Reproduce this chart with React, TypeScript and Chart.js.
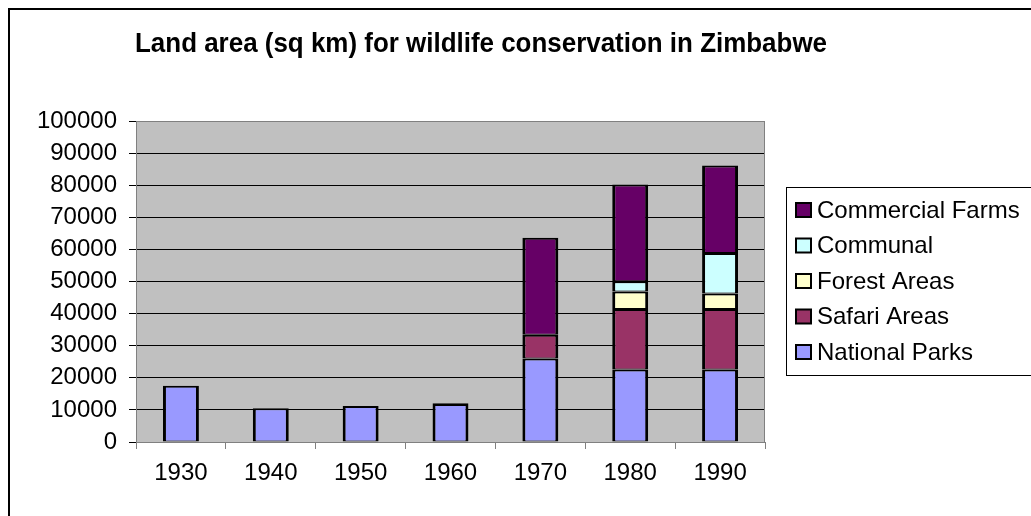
import React, { useEffect, useRef } from "react";
import { Chart, registerables } from "chart.js";

Chart.register(...registerables);

const titleText = "Land area (sq km) for wildlife conservation in Zimbabwe";
const years = ["1930", "1940", "1950", "1960", "1970", "1980", "1990"];
const nationalParks = [17500, 10500, 11200, 11800, 26000, 22600, 22600];
const safariAreas = [null, null, null, 300, 7400, 18800, 18800];
const forestAreas = [null, null, null, null, null, 5500, 4900];
const communal = [null, null, null, null, null, 3200, 12600];
const commercialFarms = [null, null, null, null, 30200, 30100, 27200];
const seriesNames = ["National Parks", "Safari Areas", "Forest Areas", "Communal", "Commercial Farms"];
const seriesColors = ["#9999FF", "#993366", "#FFFFCC", "#CCFFFF", "#660066"];
const yMin = 0;
const yMax = 100000;
const yStep = 10000;

const FONT = "'Liberation Sans', Arial, sans-serif";

const decorPlugin = {
  id: "decor",
  beforeDraw(chart: any) {
    const { ctx, chartArea: a } = chart;
    ctx.save();
    ctx.fillStyle = "#ffffff";
    ctx.fillRect(0, 0, chart.width, chart.height);
    ctx.strokeStyle = "#000000";
    ctx.lineWidth = 2;
    ctx.strokeRect(9, 9, chart.width + 40, chart.height + 40);
    ctx.fillStyle = "#C0C0C0";
    ctx.fillRect(a.left, a.top, a.right - a.left, a.bottom - a.top);
    ctx.restore();
  },
  beforeDatasetsDraw(chart: any) {
    const { ctx, chartArea: a } = chart;
    ctx.save();
    ctx.strokeStyle = "#808080";
    ctx.lineWidth = 1;
    ctx.beginPath();
    ctx.moveTo(Math.round(a.right) - 0.5, a.top);
    ctx.lineTo(Math.round(a.right) - 0.5, a.bottom);
    ctx.stroke();
    ctx.restore();
  },
  afterDraw(chart: any) {
    const { ctx } = chart;
    ctx.save();
    // title
    ctx.fillStyle = "#000";
    ctx.font = `bold 27px ${FONT}`;
    ctx.textAlign = "center";
    ctx.textBaseline = "alphabetic";
    const w = ctx.measureText(titleText).width;
    const sx = Math.min(1, 692 / w);
    ctx.save();
    ctx.translate(481, 52);
    ctx.scale(sx, 1);
    ctx.fillText(titleText, 0, 0);
    ctx.restore();
    // legend box
    ctx.strokeStyle = "#000";
    ctx.lineWidth = 1;
    ctx.strokeRect(786.5, 187.5, 400, 188);
    const ds = chart.data.datasets.slice().reverse();
    ctx.font = `24px ${FONT}`;
    ctx.textAlign = "left";
    ctx.textBaseline = "middle";
    ds.forEach((d: any, i: number) => {
      const cy = 210 + i * 35.5;
      ctx.fillStyle = d.backgroundColor;
      ctx.fillRect(796, cy - 7, 15, 14);
      ctx.lineWidth = 2;
      ctx.strokeStyle = "#000";
      ctx.strokeRect(796, cy - 7, 15, 14);
      ctx.fillStyle = "#000";
      ctx.fillText(d.label, 817, cy + 1);
    });
    ctx.restore();
  },
};

export default function App() {
  const ref = useRef<HTMLCanvasElement | null>(null);
  useEffect(() => {
    if (!ref.current) return;
    const seriesData = [nationalParks, safariAreas, forestAreas, communal, commercialFarms];
    const chart = new Chart(ref.current, {
      type: "bar",
      data: {
        labels: years,
        datasets: seriesNames.map((name, i) => ({
          label: name,
          data: seriesData[i] as any,
          backgroundColor: seriesColors[i],
          borderColor: "#000000",
          borderWidth: { top: 2, bottom: 1, left: 3, right: 3 },
          borderSkipped: false,
          barPercentage: 0.4,
          categoryPercentage: 1,
        })),
      },
      options: {
        animation: false,
        responsive: false,
        devicePixelRatio: 1,
        layout: { padding: { left: 0, right: 266, top: 121, bottom: 24 } },
        plugins: { legend: { display: false }, title: { display: false }, tooltip: { enabled: false } },
        font: { family: FONT },
        scales: {
          x: {
            stacked: true,
            ticks: { color: "#000", font: { size: 24, family: FONT }, padding: 10, maxRotation: 0 },
            grid: { drawOnChartArea: false, offset: true, tickLength: 7, color: "#808080" },
            border: { color: "#808080", width: 1 },
            afterFit: (s: any) => { s.height = 50; },
          },
          y: {
            stacked: true,
            min: yMin,
            max: yMax,
            ticks: {
              stepSize: yStep,
              color: "#000",
              font: { size: 24, family: FONT },
              padding: 12,
              callback: (v: any) => String(v),
            },
            grid: {
              color: (c: any) => (c.tick && (c.tick.value === yMax || c.tick.value === yMin) ? "#808080" : "#000000"),
              tickColor: "#000000",
              tickLength: 7,
              lineWidth: 1,
            },
            border: { color: "#808080", width: 1 },
            afterFit: (s: any) => { s.width = 136; },
          },
        },
      } as any,
      plugins: [decorPlugin],
    });
    return () => chart.destroy();
  }, []);
  return (
    <div style={{ position: "fixed", left: 0, top: 0, width: 1031, height: 516 }}>
      <canvas ref={ref} width={1031} height={516} style={{ display: "block" }} />
    </div>
  );
}
